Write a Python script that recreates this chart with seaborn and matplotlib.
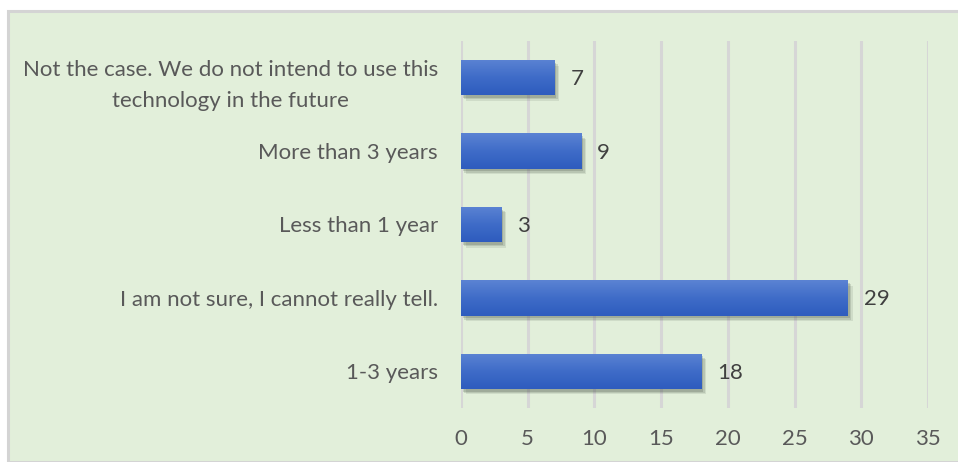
import matplotlib
matplotlib.use("Agg")
import matplotlib.pyplot as plt
import matplotlib.patheffects as pe
from matplotlib.patches import Rectangle
import numpy as np
import pandas as pd
import seaborn as sns

categories = [
    "Not the case. We do not intend to use this\ntechnology in the future",
    "More than 3 years",
    "Less than 1 year",
    "I am not sure, I cannot really tell.",
    "1-3 years",
]
counts = [7, 9, 3, 29, 18]
x_ticks = [0, 5, 10, 15, 20, 25, 30, 35]

df = pd.DataFrame({"answer": categories, "count": counts})

sns.set_theme(style="white")
plt.rcParams["font.family"] = ["Lato", "DejaVu Sans"]

W, H = 958, 462
fig = plt.figure(figsize=(W / 100, H / 100), dpi=100)
fig.patch.set_facecolor("white")

# green chart-area panel with a thin grey frame
panel = Rectangle((8 / W, 0), 1.0, 1 - 11 / H, transform=fig.transFigure,
                  facecolor="#E2EFDA", edgecolor="#D4D4D4", linewidth=2.2,
                  zorder=-10)
fig.patches.append(panel)

ax = fig.add_axes([461 / W, 1 - 408 / H, (928 - 461) / W, (408 - 41) / H])
ax.set_facecolor("none")
ax.set_zorder(1)

sns.barplot(data=df, x="count", y="answer", orient="h", color="#4472C4",
            width=0.48, ax=ax, zorder=3)

ax.set_xlim(0, 35)
ax.set_ylim(4.5, -0.5)
ax.set_xticks(x_ticks)
ax.set_xticklabels([str(t) for t in x_ticks])
ax.xaxis.grid(True, color="#D6D6D6", linewidth=2.2, zorder=0)
ax.set_axisbelow(True)
for s in ax.spines.values():
    s.set_visible(False)
ax.set_xlabel("")
ax.set_ylabel("")
ax.tick_params(axis="x", length=0, pad=15, labelsize=16, labelcolor="#595959")
ax.tick_params(axis="y", length=0, pad=16.5, labelsize=16, labelcolor="#595959")
for lbl in ax.get_yticklabels():
    lbl.set_horizontalalignment("right")
    lbl.set_multialignment("center")
    lbl.set_linespacing(1.7)

# vertical blue gradient and soft drop shadow on every bar
grad = np.linspace(0, 1, 64).reshape(-1, 1)
cmap = matplotlib.colors.LinearSegmentedColormap.from_list(
    "bar", ["#5B83D3", "#3F6CC8", "#2E5CBE"])
shadow = [pe.SimplePatchShadow(offset=(d, -d - 0.5), shadow_rgbFace="#2f3a2f",
                               alpha=a)
          for d, a in [(3.5, 0.10), (2.5, 0.14), (1.5, 0.18)]]
for bar in ax.patches:
    x0, y0 = bar.get_x(), bar.get_y()
    w, h = bar.get_width(), bar.get_height()
    bar.set_linewidth(0)
    bar.set_path_effects(shadow + [pe.Normal()])
    im = ax.imshow(grad, extent=[x0, x0 + w, y0 + h, y0], aspect="auto",
                   cmap=cmap, origin="upper", zorder=4)
    im.set_clip_path(bar)

for i, v in enumerate(counts):
    ax.text(v + 1.2, i + 0.02, str(v), va="center", ha="left", fontsize=16,
            color="#404040", zorder=5)

ax.set_xlim(0, 35)
ax.set_ylim(4.5, -0.5)
fig.savefig("out.png", dpi=100, facecolor=fig.get_facecolor())
